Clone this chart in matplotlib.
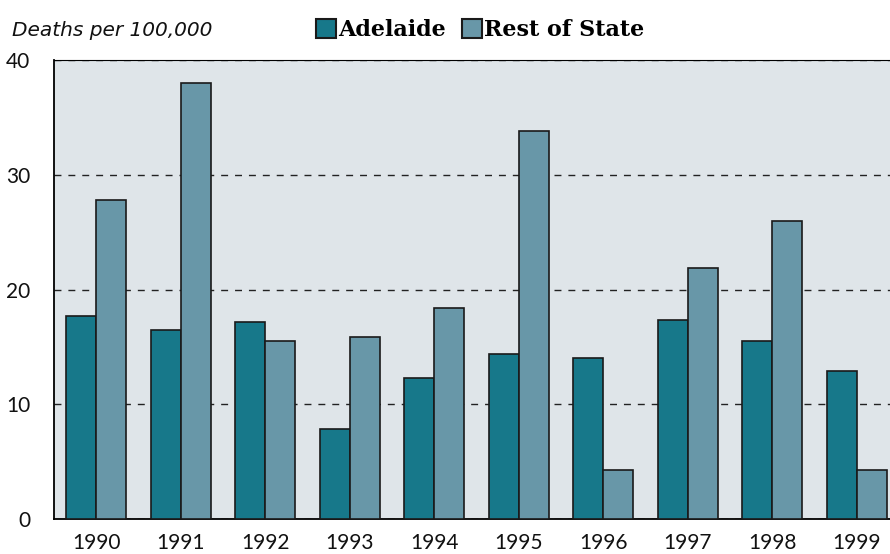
import numpy as np
import matplotlib
matplotlib.use("Agg")
import matplotlib.pyplot as plt
from matplotlib.patches import Patch

years = ["1990", "1991", "1992", "1993", "1994", "1995", "1996", "1997", "1998", "1999"]
adelaide = [17.7, 16.5, 17.2, 7.8, 12.3, 14.4, 14.0, 17.3, 15.5, 12.9]
rest_of_state = [27.8, 38.0, 15.5, 15.9, 18.4, 33.8, 4.3, 21.9, 26.0, 4.3]

c_adel = "#17788a"
c_rest = "#6897a8"

fig = plt.figure(figsize=(8.9, 5.54), dpi=100)
ax = fig.add_axes([54/890, 35/554, 845/890, 459/554])
ax.set_facecolor("#dfe5e9")

x = np.arange(len(years))
w = 0.355
ax.bar(x - w/2, adelaide, w, color=c_adel, edgecolor="#1a1a1a", linewidth=1.2, zorder=3)
ax.bar(x + w/2, rest_of_state, w, color=c_rest, edgecolor="#1a1a1a", linewidth=1.2, zorder=3)

ax.set_xlim(-0.5, 9.5)
ax.set_ylim(0, 40)
ax.set_yticks([0, 10, 20, 30, 40])
ax.set_xticks(x)
ax.set_xticklabels(years)
ax.tick_params(length=0, labelsize=15, colors="#111111")
for lab in ax.get_xticklabels() + ax.get_yticklabels():
    lab.set_family("Lato")
ax.tick_params(axis="x", pad=10)
ax.tick_params(axis="y", pad=17)
ax.yaxis.grid(True, linestyle=(0, (5, 5)), color="#222222", linewidth=1.0, zorder=1)
ax.spines["right"].set_visible(False)
ax.spines["top"].set_linewidth(0.8)
ax.spines["left"].set_linewidth(1.3)
ax.spines["bottom"].set_linewidth(1.3)

fig.text(12/890, 1 - 30/554, "Deaths per 100,000", fontsize=14.5, style="italic",
         family="DejaVu Sans", va="center", ha="left", color="#111111")

handles = [Patch(facecolor=c_adel, edgecolor="#1a1a1a", linewidth=1.5),
           Patch(facecolor=c_rest, edgecolor="#1a1a1a", linewidth=1.5)]
fig.legend(handles, ["Adelaide", "Rest of State"], loc="center", bbox_to_anchor=(480/890, 1 - 30/554),
           ncol=2, frameon=False, handlelength=0.9, handleheight=0.9, handletextpad=0.1,
           columnspacing=0.7, prop={"family": "DejaVu Serif", "weight": "bold", "size": 16})

fig.savefig("out.png", dpi=100)
